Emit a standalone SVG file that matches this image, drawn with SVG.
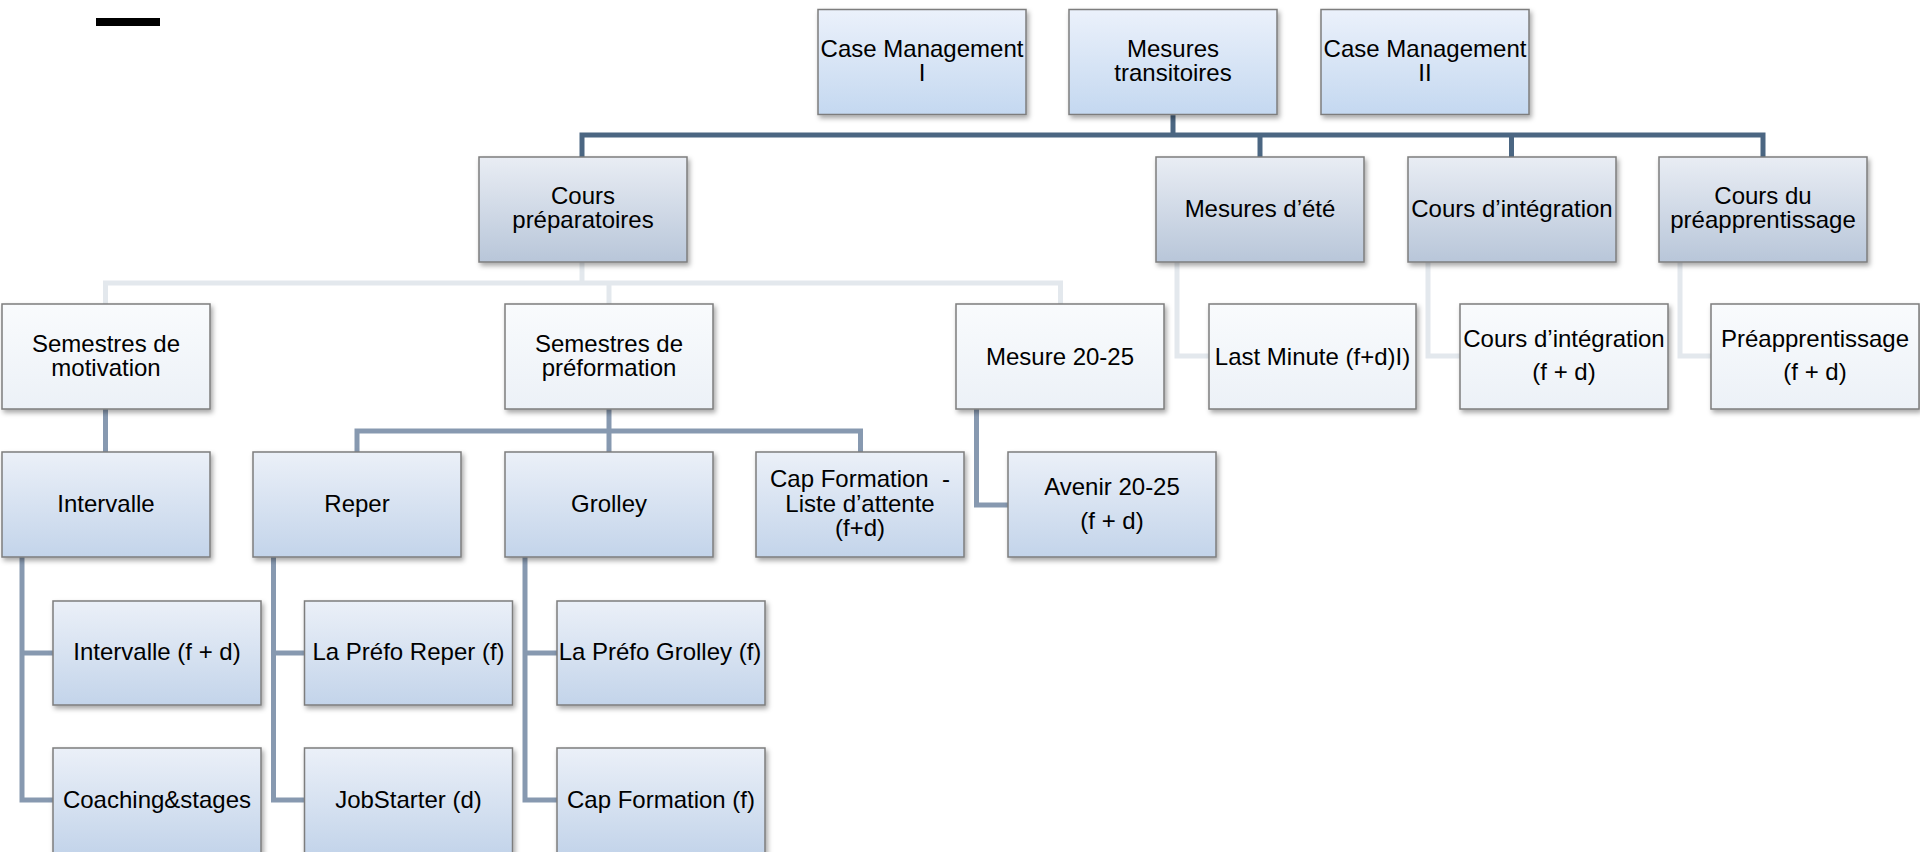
<svg xmlns="http://www.w3.org/2000/svg" width="1920" height="852" viewBox="0 0 1920 852">
<defs>
<linearGradient id="g1" x1="0" y1="0" x2="0" y2="1"><stop offset="0" stop-color="#ebf1fb"/><stop offset="1" stop-color="#c4d8f0"/></linearGradient>
<linearGradient id="g2" x1="0" y1="0" x2="0" y2="1"><stop offset="0" stop-color="#e9edf4"/><stop offset="1" stop-color="#b8c6d9"/></linearGradient>
<linearGradient id="g3" x1="0" y1="0" x2="0" y2="1"><stop offset="0" stop-color="#f9fbfd"/><stop offset="1" stop-color="#ecf1f7"/></linearGradient>
<linearGradient id="g4" x1="0" y1="0" x2="0" y2="1"><stop offset="0" stop-color="#ebf0f8"/><stop offset="1" stop-color="#c3d4ea"/></linearGradient>
<filter id="sh" x="-10%" y="-10%" width="120%" height="130%"><feDropShadow dx="2" dy="3" stdDeviation="2.5" flood-color="#000" flood-opacity="0.35"/></filter>
</defs>
<style>
rect.b{stroke:#7d7d7d;stroke-width:1.5;filter:url(#sh)}
.l1{fill:url(#g1)} .l2{fill:url(#g2)} .l3{fill:url(#g3)} .l4{fill:url(#g4)}
text{font-family:"Liberation Sans",Arial,sans-serif;font-size:24px;fill:#000;text-anchor:middle}
.c{fill:none;stroke-width:5;stroke-linejoin:miter}
.dk{stroke:#4b6682} .md{stroke:#8799b0} .lt{stroke:#e3e8ed}
</style>
<rect x="0" y="0" width="1920" height="852" fill="#ffffff"/>
<rect x="96" y="18" width="64" height="8" fill="#000"/>
<g id="connectors">
<path class="c dk" d="M1173,114 V135"/>
<path class="c dk" d="M582,157 V135 H1763 V157"/>
<path class="c dk" d="M1260,135 V157"/>
<path class="c dk" d="M1511.5,135 V157"/>
<path class="c lt" d="M582,262 V283"/>
<path class="c lt" d="M105.5,304 V283 H1060.5 V304"/>
<path class="c lt" d="M609,283 V304"/>
<path class="c lt" d="M1177,262 V356 H1209"/>
<path class="c lt" d="M1428,262 V356 H1460"/>
<path class="c lt" d="M1680,262 V356 H1711"/>
<path class="c md" d="M105.5,409 V452"/>
<path class="c md" d="M609,409 V452"/>
<path class="c md" d="M357,452 V431 H860.5 V452"/>
<path class="c md" d="M976.5,409 V505 H1008"/>
<path class="c md" d="M22,557 V800 H53 M22,653 H53"/>
<path class="c md" d="M273.5,557 V800 H304.5 M273.5,653 H304.5"/>
<path class="c md" d="M525,557 V800 H557 M525,653 H557"/>
</g>
<g id="n-cm1"><rect class="b l1" x="818" y="9.5" width="208" height="105"/><text x="922" y="57">Case Management</text><text x="922" y="80.5">I</text></g>
<g id="n-mt"><rect class="b l1" x="1069" y="9.5" width="208" height="105"/><text x="1173" y="57">Mesures</text><text x="1173" y="80.5">transitoires</text></g>
<g id="n-cm2"><rect class="b l1" x="1321" y="9.5" width="208" height="105"/><text x="1425" y="57">Case Management</text><text x="1425" y="80.5">II</text></g>
<g id="n-cp"><rect class="b l2" x="479" y="157" width="208" height="105"/><text x="583" y="204">Cours</text><text x="583" y="227.5">préparatoires</text></g>
<g id="n-me"><rect class="b l2" x="1156" y="157" width="208" height="105"/><text x="1260" y="216.5">Mesures d’été</text></g>
<g id="n-ci"><rect class="b l2" x="1408" y="157" width="208" height="105"/><text x="1512" y="216.5">Cours d’intégration</text></g>
<g id="n-cpa"><rect class="b l2" x="1659" y="157" width="208" height="105"/><text x="1763" y="204">Cours du</text><text x="1763" y="227.5">préapprentissage</text></g>
<g id="n-smot"><rect class="b l3" x="2" y="304" width="208" height="105"/><text x="106" y="352">Semestres de</text><text x="106" y="376">motivation</text></g>
<g id="n-spre"><rect class="b l3" x="505" y="304" width="208" height="105"/><text x="609" y="352">Semestres de</text><text x="609" y="376">préformation</text></g>
<g id="n-m2025"><rect class="b l3" x="956" y="304" width="208" height="105"/><text x="1060" y="365">Mesure 20-25</text></g>
<g id="n-lm"><rect class="b l3" x="1209" y="304" width="207" height="105"/><text x="1312.5" y="365">Last Minute (f+d)I)</text></g>
<g id="n-ci2"><rect class="b l3" x="1460" y="304" width="208" height="105"/><text x="1564" y="346.5">Cours d’intégration</text><text x="1564" y="380">(f + d)</text></g>
<g id="n-pre"><rect class="b l3" x="1711" y="304" width="208" height="105"/><text x="1815" y="346.5">Préapprentissage</text><text x="1815" y="380">(f + d)</text></g>
<g id="n-int"><rect class="b l4" x="2" y="452" width="208" height="105"/><text x="106" y="512">Intervalle</text></g>
<g id="n-rep"><rect class="b l4" x="253" y="452" width="208" height="105"/><text x="357" y="512">Reper</text></g>
<g id="n-gro"><rect class="b l4" x="505" y="452" width="208" height="105"/><text x="609" y="512">Grolley</text></g>
<g id="n-cap"><rect class="b l4" x="756" y="452" width="208" height="105"/><text x="860" y="487" xml:space="preserve">Cap Formation  -</text><text x="860" y="511.5">Liste d’attente</text><text x="860" y="535.5">(f+d)</text></g>
<g id="n-av"><rect class="b l4" x="1008" y="452" width="208" height="105"/><text x="1112" y="495">Avenir 20-25</text><text x="1112" y="528.5">(f + d)</text></g>
<g id="n-intfd"><rect class="b l4" x="53" y="601" width="208" height="104"/><text x="157" y="660">Intervalle (f + d)</text></g>
<g id="n-prefrep"><rect class="b l4" x="304.5" y="601" width="208" height="104"/><text x="408.5" y="660">La Préfo Reper (f)</text></g>
<g id="n-prefgro"><rect class="b l4" x="557" y="601" width="208" height="104"/><text x="660" y="660">La Préfo Grolley (f)</text></g>
<g id="n-coach"><rect class="b l4" x="53" y="748" width="208" height="106"/><text x="157" y="808">Coaching&amp;stages</text></g>
<g id="n-job"><rect class="b l4" x="304.5" y="748" width="208" height="106"/><text x="408.5" y="808">JobStarter (d)</text></g>
<g id="n-capf"><rect class="b l4" x="557" y="748" width="208" height="106"/><text x="661" y="808">Cap Formation (f)</text></g>
</svg>
